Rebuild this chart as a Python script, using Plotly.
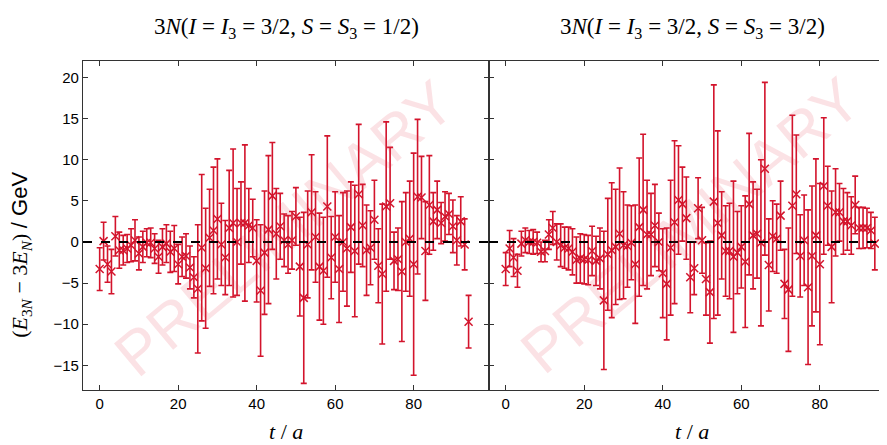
import plotly.graph_objects as go

t_values = list(range(95))

left_values = [-3.3, 0.1, -2.7, -3.6, 0.7, -1.0, -1.0, -0.8, -0.4, 0.2, -1.4, -0.6, -0.1, -0.1, -0.8,
               -1.8, -0.6, -0.2, -1.2, -0.8, -2.7, -1.8, -1.7, -3.1, -4.3, -5.7, -0.7, -3.2, 0.5, 1.4,
               2.8, -0.3, -1.9, 1.7, 2.3, 0.0, 2.3, 2.3, 2.0, 1.7, -2.3, -5.9, -1.3, 1.5, 5.6,
               1.0, 1.9, 0.2, -0.3, 0.2, 3.1, -3.0, -6.8, -0.3, 3.6, 0.6, -3.0, -3.5, 4.3, -1.9,
               0.6, -3.3, 0.0, -0.8, 1.8, -1.1, 5.8, 2.0, -1.0, -0.7, 2.7, -2.9, -3.9, 4.3, 4.7,
               -2.3, -2.1, -3.6, 0.0, 0.4, -2.7, 5.5, 5.4, -1.1, 4.5, 2.5, 3.9, 2.3, 3.1, 3.4,
               1.9, 0.2, 2.5, -0.3, -9.7]
left_errors = [2.6, 2.3, 2.2, 2.7, 2.4, 2.2, 1.8, 1.7, 2.0, 2.5, 2.0, 1.9, 1.7, 1.8, 1.8,
               2.0, 2.2, 2.3, 2.5, 2.8, 2.4, 2.4, 2.7, 2.6, 2.5, 7.8, 8.9, 7.3, 5.9, 7.7,
               7.3, 5.0, 4.5, 7.0, 9.0, 6.5, 5.0, 9.5, 4.5, 3.5, 5.0, 8.0, 7.5, 9.0, 6.5,
               5.5, 4.0, 3.2, 3.5, 3.5, 3.5, 6.0, 10.4, 6.5, 7.0, 5.5, 6.5, 6.5, 8.6, 5.0,
               5.5, 6.5, 6.0, 7.0, 5.5, 8.0, 8.5, 5.0, 5.5, 4.5, 4.8, 4.5, 8.5, 10.3, 6.8,
               3.5, 3.8, 8.5, 6.0, 7.0, 13.5, 9.4, 5.0, 6.0, 6.0, 3.5, 3.5, 2.5, 3.0, 2.5,
               3.2, 3.0, 3.0, 3.1, 3.2]

right_values = [-3.3, -0.8, -1.9, -3.5, -0.2, 0.2, 0.0, 0.0, -0.1, -1.2, -1.1, 0.9, 1.7, 0.0, -0.4,
                -0.7, -0.8, -1.2, -2.2, -2.0, -2.1, -2.2, -1.1, -2.3, -2.0, -7.1, -1.5, -1.0, -0.6, 1.0,
                -0.4, -0.5, -0.1, -2.7, 1.8, 3.9, 0.9, 0.9, 2.0, 0.0, -3.8, -5.1, -0.7, 2.4, 5.1,
                4.6, 2.9, -4.3, -3.2, 4.1, 0.2, -4.5, -6.1, 4.9, 2.3, 0.8, -1.1, -1.1, -1.8, -1.3,
                -0.6, -2.4, 4.6, 0.8, 1.0, -0.1, 8.9, -2.8, 0.7, 0.4, 3.2, -5.1, -5.8, 4.4, 5.8,
                -1.7, 0.2, -5.5, -1.7, 0.8, -2.7, 6.8, 4.4, -0.6, 3.6, 3.6, 2.5, 2.5, 2.0, 4.5,
                1.7, 1.7, 1.7, 1.4, -0.2]
right_errors = [2.0, 2.2, 2.3, 2.0, 1.5, 1.5, 1.4, 1.5, 1.3, 1.2, 1.3, 1.8, 2.0, 2.2, 2.6,
                2.5, 2.6, 2.8, 2.8, 3.0, 3.0, 3.0, 3.0, 3.0, 3.7, 8.4, 6.8, 8.2, 7.0, 8.0,
                6.5, 5.0, 4.5, 7.2, 8.4, 9.2, 6.6, 5.0, 5.0, 3.5, 5.4, 6.8, 8.2, 9.9, 6.6,
                4.5, 5.0, 4.3, 3.2, 3.7, 4.0, 4.4, 6.2, 14.2, 11.2, 5.3, 5.5, 5.8, 9.2, 5.0,
                5.0, 8.0, 8.6, 6.5, 5.4, 10.1, 10.5, 5.6, 4.3, 4.2, 4.2, 4.2, 7.5, 11.0, 7.2,
                5.0, 5.5, 9.4, 8.5, 9.3, 9.8, 8.3, 4.8, 6.8, 5.3, 3.5, 4.0, 3.5, 3.5, 3.5,
                2.5, 2.5, 2.4, 2.2, 3.2]

x_ticks = [0, 20, 40, 60, 80]
y_ticks = [-15, -10, -5, 0, 5, 10, 15, 20]

RED = "#d3142c"
SERIF = "Liberation Serif, DejaVu Serif, serif"
SANS = "Liberation Sans, Arial, sans-serif"

fig = go.Figure()
for vals, errs, xa, ya in [(left_values, left_errors, "x", "y"),
                           (right_values, right_errors, "x2", "y2")]:
    fig.add_trace(go.Scatter(
        x=t_values, y=vals, mode="markers", xaxis=xa, yaxis=ya,
        marker=dict(symbol="x-thin", size=8, line=dict(color=RED, width=1.5), color=RED),
        error_y=dict(type="data", array=errs, color=RED, thickness=1.6, width=3),
        showlegend=False, cliponaxis=True,
    ))

axis_common = dict(showline=True, linecolor="#333", linewidth=1.2, ticks="inside",
                   ticklen=5, tickcolor="#333", showgrid=False, zeroline=False,
                   tickfont=dict(family=SANS, size=15, color="black"))

split = 406 / 804
fig.update_layout(
    width=879, height=437,
    margin=dict(l=75, r=0, t=53, b=55),
    paper_bgcolor="white", plot_bgcolor="white",
    xaxis=dict(domain=[0, split], range=[-4.25, 99.2], tickvals=x_ticks, mirror="ticks",
               anchor="y", **axis_common),
    xaxis2=dict(domain=[split, 1], range=[-4.25, 97.1], tickvals=x_ticks, mirror="ticks",
                anchor="y2", **axis_common),
    yaxis=dict(range=[-18, 22], tickvals=y_ticks, mirror="ticks", anchor="x", **axis_common),
    yaxis2=dict(range=[-18, 22], tickvals=y_ticks, mirror=False, anchor="x2",
                showticklabels=False, **axis_common),
)

# dashed zero lines
for xr, yr in [("x domain", "y"), ("x2 domain", "y2")]:
    fig.add_shape(type="line", xref=xr, yref=yr, x0=0, x1=1, y0=0, y1=0,
                  line=dict(color="black", width=2, dash="dash"), layer="above")

# watermarks
for xr, yr, xc, yc in [("x", "y", 47.0, 1.6), ("x2", "y2", 47.0, 2.0)]:
    fig.add_annotation(text="PRELIMINARY", xref=xr, yref=yr, x=xc, y=yc, showarrow=False,
                       textangle=-40, font=dict(family=SANS, size=62, color="rgba(230,50,70,0.14)"))

# panel titles
titles = ["3<i>N</i>(<i>I</i> = <i>I</i><sub>3</sub> = 3/2, <i>S</i> = <i>S</i><sub>3</sub> = 1/2)",
          "3<i>N</i>(<i>I</i> = <i>I</i><sub>3</sub> = 3/2, <i>S</i> = <i>S</i><sub>3</sub> = 3/2)"]
for xr, txt in zip(["x", "x2"], titles):
    fig.add_annotation(text=txt, xref=xr, yref="paper", x=47.5, y=1.10, showarrow=False,
                       yanchor="middle", font=dict(family=SERIF, size=23, color="black"))
    fig.add_annotation(text="<i>t</i> / <i>a</i>", xref=xr, yref="paper", x=47.5, y=-0.127,
                       showarrow=False, yanchor="middle",
                       font=dict(family=SERIF, size=22, color="black"))

fig.add_annotation(
    text="(<i>E</i><sub>3<i>N</i></sub> \u2212 3<i>E</i><sub><i>N</i></sub>) "
         "<span style='font-family:Liberation Sans, Arial, sans-serif'>/ GeV</span>",
    xref="paper", yref="paper", x=-0.077, y=0.411, showarrow=False, textangle=-90,
    xanchor="center", yanchor="middle", font=dict(family=SERIF, size=22, color="black"))

fig.write_html("out.html")
